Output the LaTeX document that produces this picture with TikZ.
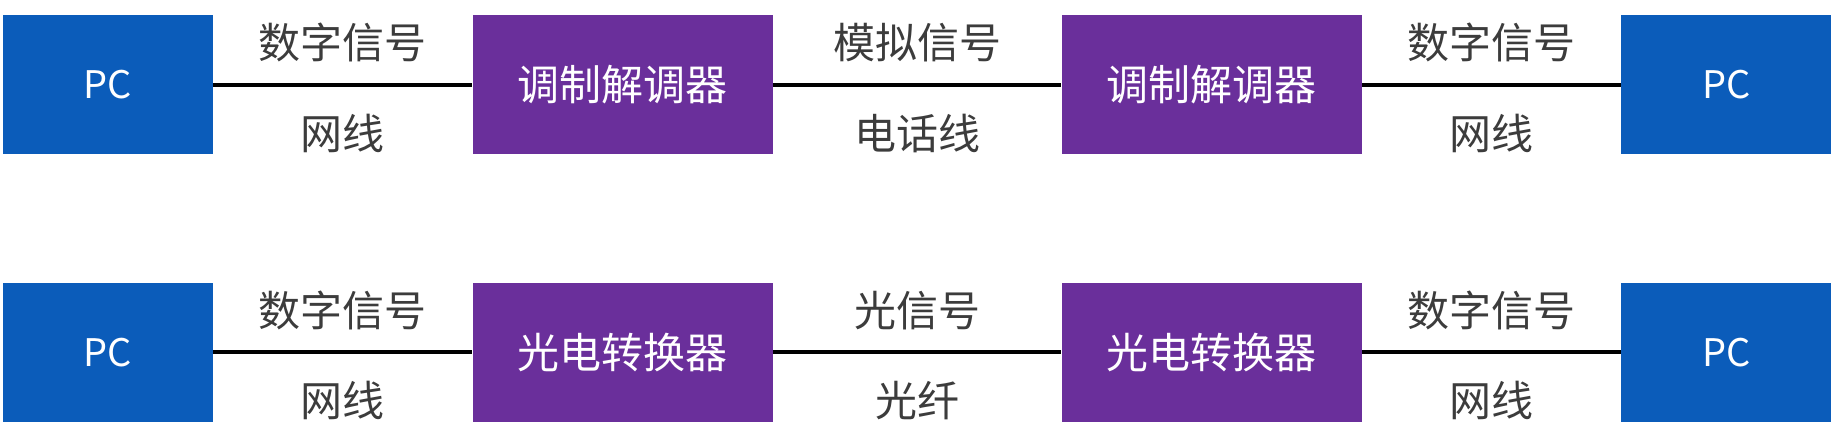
\documentclass[tikz,border=0pt]{standalone}
\usepackage{fontspec}
\usetikzlibrary{positioning}
\newfontfamily\cjk{Noto Sans CJK SC}
\definecolor{pcblue}{RGB}{11,92,186}
\definecolor{devpurple}{RGB}{106,47,155}
\definecolor{lblgray}{RGB}{60,60,60}
\tikzset{
  pc/.style={fill=pcblue, text=white, inner sep=0pt, minimum width=105pt, minimum height=69.5pt,
    font=\cjk\fontsize{19}{19}\selectfont},
  dev/.style={fill=devpurple, text=white, inner sep=0pt, minimum width=150pt, minimum height=69.5pt,
    font=\cjk\fontsize{21}{21}\selectfont},
  lbl/.style={text=lblgray, inner sep=0pt, font=\cjk\fontsize{21}{21}\selectfont},
  wire/.style={line width=2pt, black}
}
\begin{document}
\begin{tikzpicture}[node distance=129.5pt]
    \useasboundingbox (0,0) rectangle (918pt,215pt);
    % modem row
    \node(PCa) [pc] at (54pt,172.75pt) {PC};
    \node(ModemA) [dev, right=of PCa] {调制解调器};
    \node(ModemB) [dev, right=144pt of ModemA] {调制解调器};
    \node(PCb) [pc, right=of ModemB] {PC};
    \draw[wire](PCa) -- node(SigA)[lbl, yshift=21pt] {数字信号} node(CabA)[lbl, yshift=-24.25pt] {网线} (ModemA);
    \draw[wire](ModemA) -- node(SigB)[lbl, yshift=21pt] {模拟信号} node(CabB)[lbl, yshift=-24.25pt] {电话线} (ModemB);
    \draw[wire](ModemB) -- node(SigC)[lbl, yshift=21pt] {数字信号} node(CabC)[lbl, yshift=-24.25pt] {网线} (PCb);
    % fibre row
    \node(PCc) [pc, below=64pt of PCa] {PC};
    \node(ConvA) [dev, right=of PCc] {光电转换器};
    \node(ConvB) [dev, right=144pt of ConvA] {光电转换器};
    \node(PCd) [pc, right=of ConvB] {PC};
    \draw[wire](PCc) -- node(SigD)[lbl, yshift=21pt] {数字信号} node(CabD)[lbl, yshift=-24.25pt] {网线} (ConvA);
    \draw[wire](ConvA) -- node(SigE)[lbl, yshift=21pt] {光信号} node(CabE)[lbl, yshift=-24.25pt] {光纤} (ConvB);
    \draw[wire](ConvB) -- node(SigF)[lbl, yshift=21pt] {数字信号} node(CabF)[lbl, yshift=-24.25pt] {网线} (PCd);
\end{tikzpicture}
\end{document}
